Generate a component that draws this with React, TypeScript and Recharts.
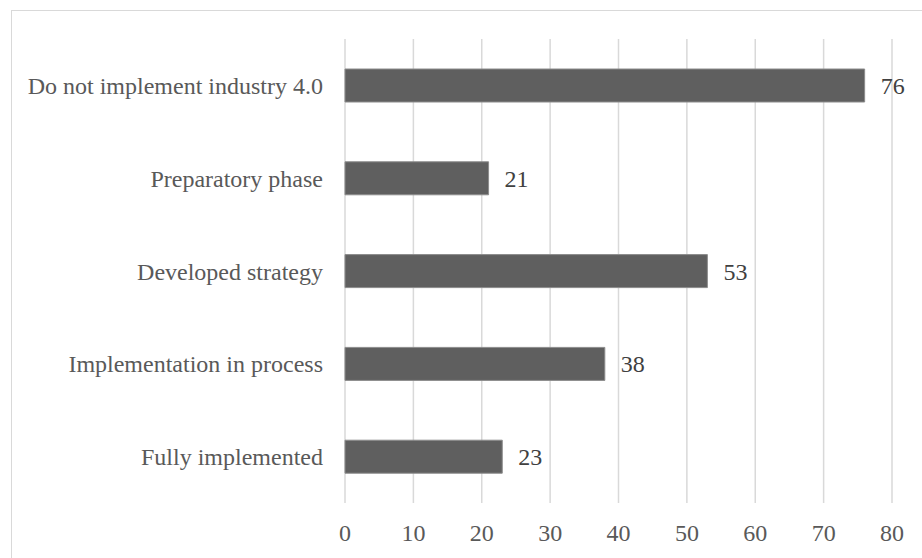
import { BarChart, Bar, XAxis, YAxis, CartesianGrid, LabelList } from "recharts"

const categories = [
  "Do not implement industry 4.0",
  "Preparatory phase",
  "Developed strategy",
  "Implementation in process",
  "Fully implemented",
]
const values = [76, 21, 53, 38, 23]
const xTicks = [0, 10, 20, 30, 40, 50, 60, 70, 80]

const data = categories.map((name, i) => ({ name, value: values[i] }))

const font = "'Liberation Serif', 'Times New Roman', serif"

export default function App() {
  return (
    <div style={{ position: "absolute", left: 0, top: 0, width: 922, height: 558, background: "#fff", overflow: "hidden" }}>
      <div
        style={{
          position: "absolute",
          left: 11,
          top: 10,
          width: 940,
          height: 580,
          borderTop: "1px solid #d9d9d9",
          borderLeft: "1px solid #d9d9d9",
        }}
      />
      <BarChart
        width={922}
        height={558}
        data={data}
        layout="vertical"
        margin={{ top: 39, right: 30, bottom: 0, left: 0 }}
        barCategoryGap={0}
        style={{ position: "absolute", left: 0, top: 0 }}
      >
        <CartesianGrid horizontal={false} vertical={true} stroke="#d9d9d9" strokeWidth={1.5} />
        <XAxis
          type="number"
          domain={[0, 80]}
          ticks={xTicks}
          axisLine={false}
          tickLine={false}
          tickSize={0}
          tickMargin={21}
          height={55}
          interval={0}
          tick={{ fill: "#595959", fontSize: 24, fontFamily: font }}
        />
        <YAxis
          type="category"
          dataKey="name"
          width={345}
          axisLine={false}
          tickLine={false}
          tickSize={0}
          tickMargin={22}
          interval={0}
          tick={{ fill: "#595959", fontSize: 24, fontFamily: font }}
        />
        <Bar dataKey="value" fill="#5f5f5f" stroke="#8c8c8c" strokeWidth={1} barSize={33} isAnimationActive={false}>
          <LabelList
            dataKey="value"
            position="right"
            offset={16}
            fill="#404040"
            fontSize={24}
            fontFamily={font}
          />
        </Bar>
      </BarChart>
    </div>
  )
}
